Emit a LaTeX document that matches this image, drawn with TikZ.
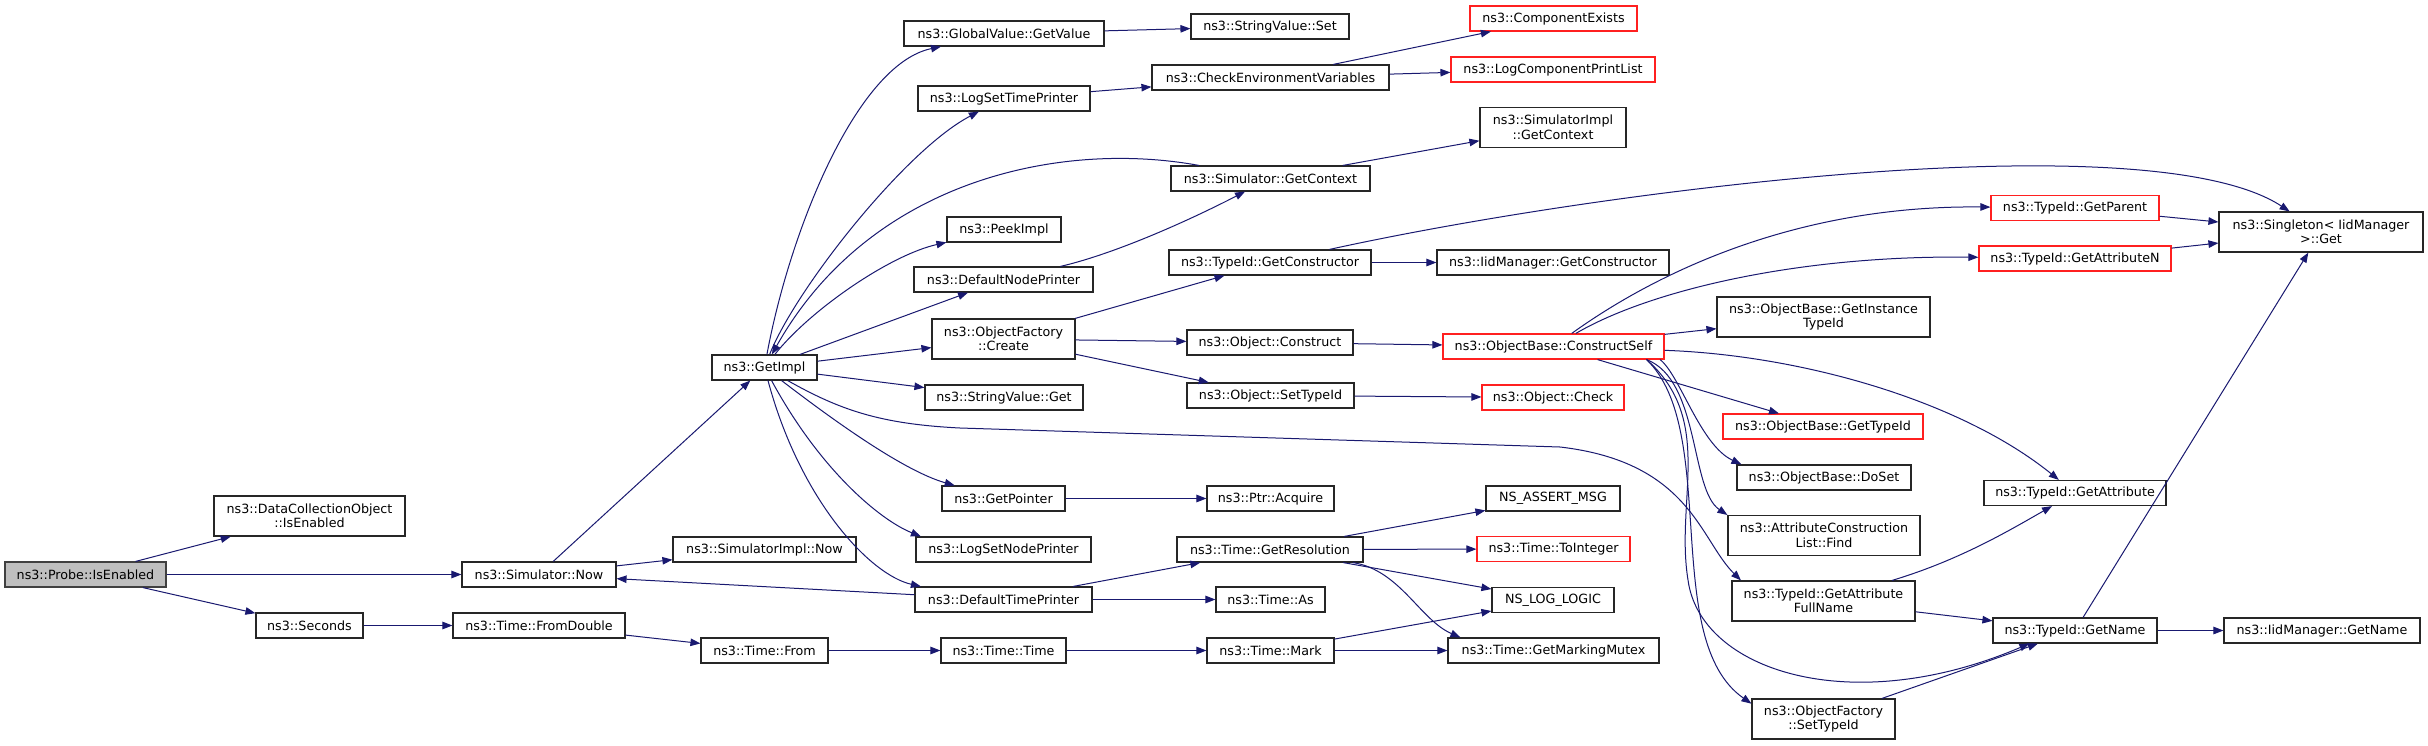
\documentclass[tikz,border=0pt]{standalone}
\usepackage{fontspec}
\setmainfont{DejaVu Sans}
\usetikzlibrary{arrows.meta}

\definecolor{callblue}{HTML}{191970}
\definecolor{boxgrey}{HTML}{404040}
\definecolor{rootfill}{HTML}{BFBFBF}
\definecolor{missred}{HTML}{FF2020}

\begin{document}
\begin{tikzpicture}[
    x=1pt, y=-1pt,
    func/.style={rectangle, draw=black!85, line width=1.15pt, fill=white, inner sep=0pt, minimum height=25pt, align=center, font=\fontsize{12.7}{14.5}\selectfont},
    func2/.style={func, minimum height=40pt},
    root/.style={fill=rootfill, draw=boxgrey},
    missing/.style={draw=missred},
    arrow/.style={->, >={Triangle[length=10pt, width=7.5pt]}, draw=callblue, line width=1pt}
]

\path[use as bounding box, fill=white] (0,0) rectangle (2428,745);

% Callers on the left
\node[func, root, minimum width=161pt] (prob) at (85.5,574.5) {ns3::Probe::IsEnabled};
\node[func2, minimum width=191pt] (dco) at (309.5,516) {ns3::DataCollectionObject\\::IsEnabled};
\node[func, minimum width=107pt] (sec) at (309.5,625.5) {ns3::Seconds};
\node[func, minimum width=154pt] (snow) at (539,574.5) {ns3::Simulator::Now};
\node[func, minimum width=172pt] (fromd) at (539,625.5) {ns3::Time::FromDouble};
\node[func, minimum width=105pt] (getimpl) at (764.5,367.5) {ns3::GetImpl};
\node[func, minimum width=183pt] (simpnow) at (764.5,549.5) {ns3::SimulatorImpl::Now};
\node[func, minimum width=127pt] (from) at (764.5,650.5) {ns3::Time::From};

% Second column
\node[func, minimum width=200pt] (gval) at (1004,33.5) {ns3::GlobalValue::GetValue};
\node[func, minimum width=172pt] (lstp) at (1004,98.5) {ns3::LogSetTimePrinter};
\node[func, minimum width=114pt] (peek) at (1004,229.5) {ns3::PeekImpl};
\node[func, minimum width=179pt] (dnp) at (1003.5,279.5) {ns3::DefaultNodePrinter};
\node[func2, minimum width=143pt] (ofc) at (1003.5,339) {ns3::ObjectFactory\\::Create};
\node[func, minimum width=158pt] (svget) at (1004,397.5) {ns3::StringValue::Get};
\node[func, minimum width=123pt] (gptr) at (1003.5,498.5) {ns3::GetPointer};
\node[func, minimum width=175pt] (lsnp) at (1003.5,549.5) {ns3::LogSetNodePrinter};
\node[func, minimum width=177pt] (dtp) at (1003.5,599.5) {ns3::DefaultTimePrinter};
\node[func, minimum width=125pt] (ttime) at (1003.5,650.5) {ns3::Time::Time};

% Third column
\node[func, minimum width=158pt] (svset) at (1270,26.5) {ns3::StringValue::Set};
\node[func, minimum width=237pt] (cev) at (1270.5,77.5) {ns3::CheckEnvironmentVariables};
\node[func, minimum width=199pt] (sgc) at (1270.5,178.5) {ns3::Simulator::GetContext};
\node[func, minimum width=202pt] (tgc) at (1270,262.5) {ns3::TypeId::GetConstructor};
\node[func, minimum width=166pt] (oconst) at (1270,342.5) {ns3::Object::Construct};
\node[func, minimum width=167pt] (osti) at (1270.5,395.5) {ns3::Object::SetTypeId};
\node[func, minimum width=127pt] (pacq) at (1270.5,498.5) {ns3::Ptr::Acquire};
\node[func, minimum width=186pt] (tgr) at (1270,549.5) {ns3::Time::GetResolution};
\node[func, minimum width=109pt] (tas) at (1270.5,599.5) {ns3::Time::As};
\node[func, minimum width=127pt] (tmark) at (1270.5,650.5) {ns3::Time::Mark};

% Fourth column
\node[func, missing, minimum width=167pt] (cex) at (1553.5,18.5) {ns3::ComponentExists};
\node[func, missing, minimum width=204pt] (lcpl) at (1553,69.5) {ns3::LogComponentPrintList};
\node[func2, minimum width=146pt] (sigc) at (1553,127.5) {ns3::SimulatorImpl\\::GetContext};
\node[func, minimum width=232pt] (imgc) at (1553,262.5) {ns3::IidManager::GetConstructor};
\node[func, missing, minimum width=221pt] (obcs) at (1553.5,346.5) {ns3::ObjectBase::ConstructSelf};
\node[func, missing, minimum width=142pt] (ochk) at (1553,397.5) {ns3::Object::Check};
\node[func, minimum width=134pt] (nsa) at (1553,498.5) {NS\_ASSERT\_MSG};
\node[func, missing, minimum width=153pt] (tti) at (1553.5,549) {ns3::Time::ToInteger};
\node[func, minimum width=122pt] (nll) at (1553,600) {NS\_LOG\_LOGIC};
\node[func, minimum width=211pt] (tgmm) at (1553.5,650.5) {ns3::Time::GetMarkingMutex};

% Fifth column
\node[func2, minimum width=213pt] (obgit) at (1823.5,317) {ns3::ObjectBase::GetInstance\\TypeId};
\node[func, missing, minimum width=200pt] (obgti) at (1823,426.5) {ns3::ObjectBase::GetTypeId};
\node[func, minimum width=174pt] (obds) at (1824,477.5) {ns3::ObjectBase::DoSet};
\node[func2, minimum width=192pt] (acl) at (1824,535.5) {ns3::AttributeConstruction\\List::Find};
\node[func2, minimum width=183pt] (tgafn) at (1823.5,601) {ns3::TypeId::GetAttribute\\FullName};
\node[func2, minimum width=143pt] (ofsti) at (1823.5,719) {ns3::ObjectFactory\\::SetTypeId};

% Right columns
\node[func, missing, minimum width=168pt] (tgp) at (2075,208) {ns3::TypeId::GetParent};
\node[func, missing, minimum width=192pt] (tgan) at (2075,258.5) {ns3::TypeId::GetAttributeN};
\node[func, minimum width=182pt] (tga) at (2075,493) {ns3::TypeId::GetAttribute};
\node[func, minimum width=164pt] (tgn) at (2075,630.5) {ns3::TypeId::GetName};
\node[func2, minimum width=204pt] (sing) at (2321,232) {ns3::Singleton< IidManager\\ >::Get};
\node[func, minimum width=196pt] (imgn) at (2322,630.5) {ns3::IidManager::GetName};

% Calls
\draw[arrow] (prob) -- (dco);
\draw[arrow] (prob) -- (snow);
\draw[arrow] (prob) -- (sec);
\draw[arrow] (sec) -- (fromd);
\draw[arrow] (fromd) -- (from);
\draw[arrow] (from) -- (ttime);
\draw[arrow] (ttime) -- (tmark);
\draw[arrow] (tmark) -- (nll);
\draw[arrow] (tmark) -- (tgmm);
\draw[arrow] (snow) -- (getimpl);
\draw[arrow] (snow) -- (simpnow);
\draw[arrow] (dtp) -- (snow);

\draw[arrow] (getimpl) .. controls (790,230) and (857,64) .. (gval);
\draw[arrow] (getimpl) .. controls (795,290) and (905,150) .. (lstp);
\draw[arrow] (sgc) .. controls (1060,140) and (870,180) .. (getimpl);
\draw[arrow] (getimpl) .. controls (810,310) and (890,255) .. (peek);
\draw[arrow] (getimpl) -- (dnp);
\draw[arrow] (getimpl) -- (ofc);
\draw[arrow] (getimpl) -- (svget);
\draw[arrow] (getimpl) .. controls (820,410) and (900,470) .. (gptr.165);
\draw[arrow] (getimpl) .. controls (820,470) and (880,520) .. (lsnp.171);
\draw[arrow] (getimpl) .. controls (800,500) and (870,575) .. (dtp.171);
\draw[arrow] (getimpl) .. controls (840,410) and (880,424) .. (960,428) -- (1560,447)
    .. controls (1690,462) and (1700,540) .. (tgafn.166);

\draw[arrow] (gval) -- (svset);
\draw[arrow] (lstp) -- (cev);
\draw[arrow] (cev) -- (cex);
\draw[arrow] (cev) -- (lcpl);
\draw[arrow] (sgc) -- (sigc);
\draw[arrow] (dnp) .. controls (1110,255) and (1180,225) .. (sgc);
\draw[arrow] (ofc) -- (tgc);
\draw[arrow] (ofc) -- (oconst);
\draw[arrow] (ofc) -- (osti);
\draw[arrow] (tgc) -- (imgc);
\draw[arrow] (tgc) .. controls (1600,190) and (2150,120) .. (sing);
\draw[arrow] (oconst) -- (obcs);
\draw[arrow] (osti) -- (ochk);
\draw[arrow] (gptr) -- (pacq);
\draw[arrow] (dtp) -- (tgr);
\draw[arrow] (dtp) -- (tas);
\draw[arrow] (tgr.10) -- (nsa.190);
\draw[arrow] (tgr) -- (tti);
\draw[arrow] (tgr) -- (nll);
\draw[arrow] (tgr) .. controls (1400,570) and (1420,620) .. (tgmm.172);

\draw[arrow] (obcs) .. controls (1660,270) and (1800,205) .. (tgp);
\draw[arrow] (obcs) .. controls (1650,290) and (1800,255) .. (tgan);
\draw[arrow] (obcs) -- (obgit);
\draw[arrow] (obcs) -- (obgti);
\draw[arrow] (obcs.-7) .. controls (1680,375) and (1700,445) .. (obds.171);
\draw[arrow] (obcs) .. controls (1800,355) and (1960,400) .. (tga);
\draw[arrow] (obcs.-8) .. controls (1700,380) and (1690,490) .. (acl.168);
\draw[arrow] (obcs.-8) .. controls (1720,430) and (1660,640) .. (ofsti.168);
\draw[arrow] (obcs.-8) .. controls (1715,420) and (1675,500) .. (1688,580)
    .. controls (1700,670) and (1850,720) .. (tgn.196);

\draw[arrow] (tgp) -- (sing);
\draw[arrow] (tgan) -- (sing);
\draw[arrow] (tgafn) .. controls (1960,560) and (2010,530) .. (tga);
\draw[arrow] (tgafn) -- (tgn);
\draw[arrow] (tgn) -- (imgn);
\draw[arrow] (tgn) -- (sing);
\draw[arrow] (ofsti) -- (tgn);

\end{tikzpicture}
\end{document}
